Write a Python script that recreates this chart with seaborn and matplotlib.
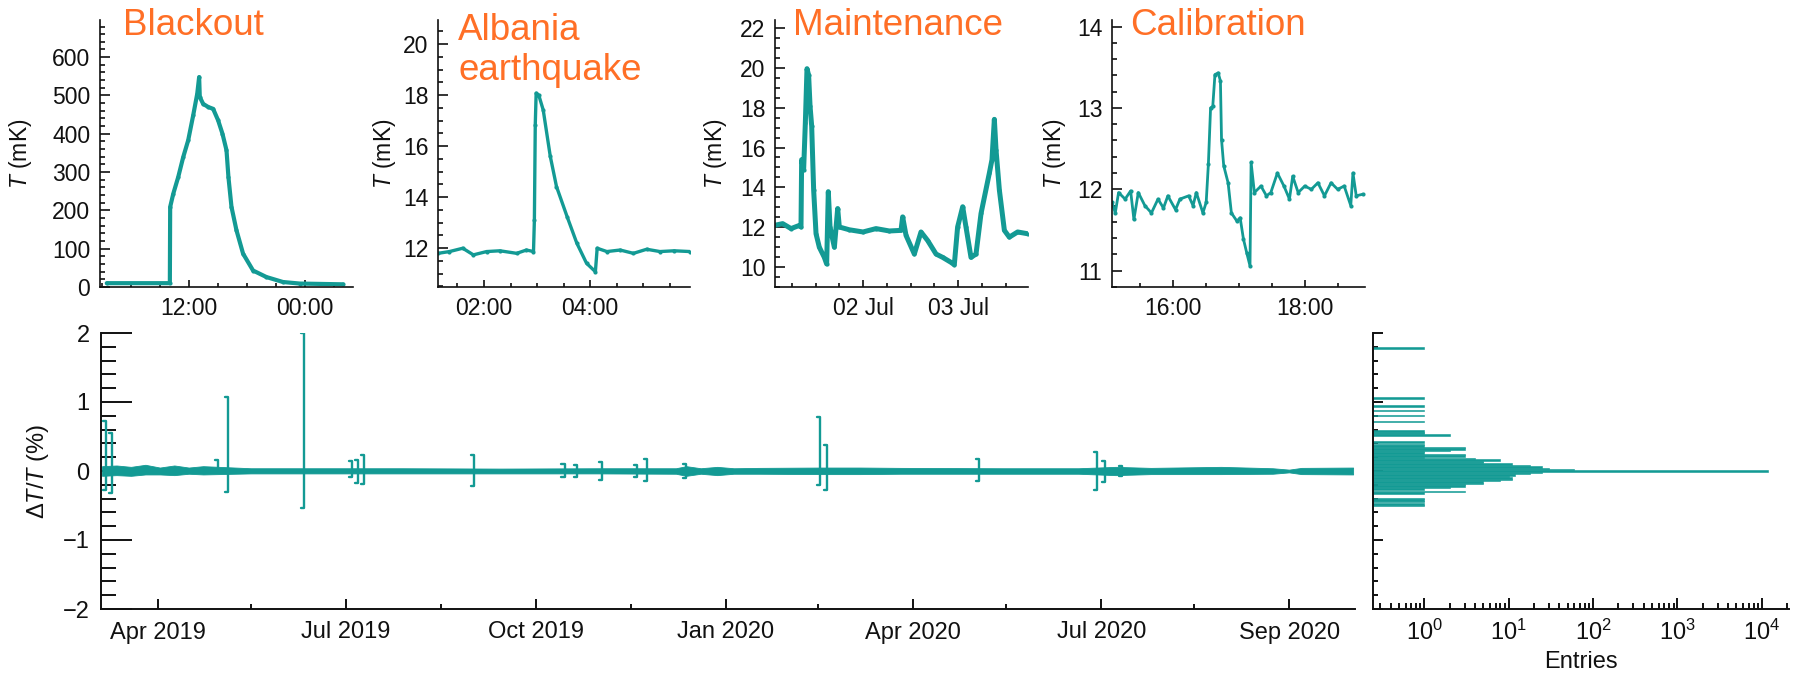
import numpy as np
import pandas as pd
import matplotlib
matplotlib.use('Agg')
import matplotlib.pyplot as plt
import matplotlib.dates as mdates
import matplotlib.ticker as mticker
import seaborn as sns

TEAL = '#139a94'
ORANGE = '#ff6f26'
INK = '#111111'

# ---------------- data ----------------
blackout_time = ['2019-06-11 03:30', '2019-06-11 10:02', '2019-06-11 10:04', '2019-06-11 10:23',
                 '2019-06-11 10:54', '2019-06-11 11:25', '2019-06-11 11:56', '2019-06-11 12:27',
                 '2019-06-11 12:52', '2019-06-11 13:04', '2019-06-11 13:08', '2019-06-11 13:29',
                 '2019-06-11 14:00', '2019-06-11 14:31', '2019-06-11 15:02', '2019-06-11 15:29',
                 '2019-06-11 15:54', '2019-06-11 16:06', '2019-06-11 16:25', '2019-06-11 16:56',
                 '2019-06-11 17:37', '2019-06-11 18:39', '2019-06-11 20:02', '2019-06-11 21:45',
                 '2019-06-11 23:29', '2019-06-12 03:58']
blackout_T = [10, 10, 209, 243, 287, 339, 383, 448, 504, 548, 496, 478, 470, 465, 435, 400,
              357, 287, 209, 148, 87, 43, 26, 13, 9, 7]

albania_time = ['2019-11-26 01:08', '2019-11-26 01:21', '2019-11-26 01:36', '2019-11-26 01:48',
                '2019-11-26 02:03', '2019-11-26 02:18', '2019-11-26 02:37', '2019-11-26 02:48',
                '2019-11-26 02:56', '2019-11-26 02:57', '2019-11-26 02:58', '2019-11-26 02:59',
                '2019-11-26 03:02', '2019-11-26 03:07', '2019-11-26 03:15', '2019-11-26 03:22',
                '2019-11-26 03:34', '2019-11-26 03:45', '2019-11-26 03:56', '2019-11-26 04:06',
                '2019-11-26 04:08', '2019-11-26 04:19', '2019-11-26 04:34', '2019-11-26 04:49',
                '2019-11-26 05:04', '2019-11-26 05:19', '2019-11-26 05:35', '2019-11-26 05:53']
albania_T = [11.80, 11.87, 12.00, 11.74, 11.87, 11.90, 11.80, 11.93, 11.87, 13.10, 16.84, 18.08,
             18.00, 17.42, 15.60, 14.42, 13.24, 12.20, 11.41, 11.08, 12.00, 11.87, 11.93, 11.80,
             11.96, 11.87, 11.90, 11.87]

maint_time = ['2020-07-01 01:36', '2020-07-01 03:42', '2020-07-01 05:49', '2020-07-01 07:55',
              '2020-07-01 08:20', '2020-07-01 08:30', '2020-07-01 09:00', '2020-07-01 09:26',
              '2020-07-01 09:51', '2020-07-01 10:16', '2020-07-01 10:37', '2020-07-01 11:02',
              '2020-07-01 11:32', '2020-07-01 12:08', '2020-07-01 12:58', '2020-07-01 14:14',
              '2020-07-01 14:49', '2020-07-01 15:14', '2020-07-01 15:40', '2020-07-01 16:46',
              '2020-07-01 17:36', '2020-07-01 18:01', '2020-07-01 20:33', '2020-07-02 00:00',
              '2020-07-02 03:17', '2020-07-02 06:39', '2020-07-02 09:36', '2020-07-02 10:01',
              '2020-07-02 10:52', '2020-07-02 12:58', '2020-07-02 14:39', '2020-07-02 16:20',
              '2020-07-02 18:27', '2020-07-02 20:08', '2020-07-02 22:14', '2020-07-02 23:04',
              '2020-07-02 23:54', '2020-07-03 01:11', '2020-07-03 02:01', '2020-07-03 03:17',
              '2020-07-03 04:33', '2020-07-03 05:49', '2020-07-03 07:55', '2020-07-03 08:35',
              '2020-07-03 09:11', '2020-07-03 09:36', '2020-07-03 10:27', '2020-07-03 11:43',
              '2020-07-03 12:58', '2020-07-03 15:04', '2020-07-03 17:36']
maint_T = [12.08, 12.17, 11.92, 12.08, 12.00, 15.39, 14.88, 17.25, 19.97, 19.63, 18.10, 17.08,
           13.86, 11.66, 10.98, 10.47, 10.14, 13.78, 12.00, 10.98, 12.93, 12.00, 11.86, 11.75,
           11.92, 11.80, 11.83, 12.51, 11.58, 10.64, 11.75, 11.32, 10.64, 10.47, 10.22, 10.10,
           12.00, 13.02, 12.00, 10.47, 10.64, 12.68, 14.71, 15.39, 17.42, 15.90, 13.86, 11.83,
           11.49, 11.75, 11.66]

calib_time = ['2020-05-03 15:04', '2020-05-03 15:07', '2020-05-03 15:10', '2020-05-03 15:16',
              '2020-05-03 15:21', '2020-05-03 15:24', '2020-05-03 15:28', '2020-05-03 15:34',
              '2020-05-03 15:40', '2020-05-03 15:46', '2020-05-03 15:51', '2020-05-03 15:55',
              '2020-05-03 16:02', '2020-05-03 16:06', '2020-05-03 16:14', '2020-05-03 16:18',
              '2020-05-03 16:21', '2020-05-03 16:27', '2020-05-03 16:30', '2020-05-03 16:32',
              '2020-05-03 16:34', '2020-05-03 16:36', '2020-05-03 16:38', '2020-05-03 16:41',
              '2020-05-03 16:43', '2020-05-03 16:44', '2020-05-03 16:46', '2020-05-03 16:50',
              '2020-05-03 16:53', '2020-05-03 16:58', '2020-05-03 17:01', '2020-05-03 17:04',
              '2020-05-03 17:07', '2020-05-03 17:10', '2020-05-03 17:11', '2020-05-03 17:14',
              '2020-05-03 17:20', '2020-05-03 17:25', '2020-05-03 17:29', '2020-05-03 17:35',
              '2020-05-03 17:41', '2020-05-03 17:46', '2020-05-03 17:49', '2020-05-03 17:54',
              '2020-05-03 18:00', '2020-05-03 18:06', '2020-05-03 18:12', '2020-05-03 18:18',
              '2020-05-03 18:24', '2020-05-03 18:30', '2020-05-03 18:36', '2020-05-03 18:42',
              '2020-05-03 18:44', '2020-05-03 18:47', '2020-05-03 18:53']
calib_T = [11.84, 11.71, 11.96, 11.88, 11.98, 11.63, 11.96, 11.80, 11.71, 11.88, 11.77, 11.92,
           11.75, 11.88, 11.92, 11.80, 11.96, 11.71, 11.84, 12.31, 13.00, 13.02, 13.41, 13.43,
           13.33, 12.61, 12.29, 12.08, 11.71, 11.61, 11.65, 11.39, 11.22, 11.06, 12.33, 11.96,
           12.04, 11.92, 11.96, 12.20, 12.04, 11.88, 12.16, 11.96, 12.04, 12.00, 12.08, 11.92,
           12.08, 12.00, 12.04, 11.80, 12.20, 11.92, 11.94]

# long-term dT/T: noise envelope and excursions
env_dates = ['2019-03-05', '2019-03-12', '2019-03-19', '2019-03-26', '2019-04-02', '2019-04-09',
             '2019-04-16', '2019-04-23', '2019-05-16', '2019-06-09', '2019-07-28', '2019-09-14',
             '2019-11-01', '2019-12-08', '2019-12-13', '2019-12-20', '2019-12-28', '2020-01-05',
             '2020-01-17', '2020-02-16', '2020-03-06', '2020-03-26', '2020-05-14', '2020-06-20',
             '2020-07-08', '2020-07-25', '2020-08-28', '2020-09-22', '2020-09-30', '2020-10-06',
             '2020-10-31']
env_hi = [0.07, 0.08, 0.06, 0.09, 0.05, 0.08, 0.05, 0.07, 0.04, 0.04, 0.04, 0.035, 0.04, 0.04,
          0.07, 0.04, 0.06, 0.04, 0.045, 0.05, 0.05, 0.045, 0.04, 0.04, 0.06, 0.045, 0.06, 0.04,
          0.02, 0.045, 0.05]
env_lo = [-0.07, -0.06, -0.07, -0.05, -0.05, -0.06, -0.04, -0.05, -0.035, -0.035, -0.035,
          -0.035, -0.035, -0.04, -0.07, -0.04, -0.06, -0.04, -0.04, -0.045, -0.045, -0.04, -0.04,
          -0.04, -0.06, -0.045, -0.045, -0.04, -0.02, -0.045, -0.05]

spike_dates = ['2019-03-07', '2019-03-10', '2019-04-30', '2019-05-05', '2019-06-11', '2019-07-04',
               '2019-07-07', '2019-07-10', '2019-09-01', '2019-10-15', '2019-10-21', '2019-11-02',
               '2019-11-19', '2019-11-24', '2019-12-13', '2020-02-16', '2020-02-19', '2020-05-03',
               '2020-06-29', '2020-07-03', '2020-07-11']
spike_hi = [0.72, 0.55, 0.16, 1.07, 2.00, 0.15, 0.16, 0.23, 0.23, 0.10, 0.08, 0.13, 0.08, 0.17,
            0.10, 0.78, 0.37, 0.17, 0.27, 0.15, 0.07]
spike_lo = [-0.28, -0.32, -0.02, -0.30, -0.53, -0.08, -0.18, -0.19, -0.22, -0.08, -0.08, -0.13,
            -0.08, -0.14, -0.10, -0.20, -0.28, -0.14, -0.27, -0.16, -0.07]

main_tick_dates = ['2019-04-01', '2019-07-01', '2019-10-01', '2020-01-01', '2020-04-01',
                   '2020-07-01', '2020-09-30']
main_tick_labels = ['Apr 2019', 'Jul 2019', 'Oct 2019', 'Jan 2020', 'Apr 2020', 'Jul 2020',
                    'Sep 2020']
main_minor_dates = ['2019-05-16', '2019-08-16', '2019-11-16', '2020-02-15', '2020-05-16',
                    '2020-08-15']

hist_centers = [1.78, 1.06, 0.94, 0.88, 0.80, 0.72, 0.58, 0.56, 0.54, 0.52, 0.42,
                0.38, 0.36, 0.34, 0.32, 0.30, 0.28, 0.26, 0.24, 0.22, 0.20, 0.18, 0.16, 0.14,
                0.12, 0.10, 0.08, 0.06, 0.04, 0.02, 0.00,
                -0.02, -0.04, -0.06, -0.08, -0.10, -0.12, -0.14, -0.16, -0.18, -0.20, -0.22,
                -0.24, -0.26, -0.30, -0.32, -0.40, -0.42, -0.44, -0.48, -0.50]
hist_counts = [1, 1, 1, 1, 1, 1, 1, 1, 1, 2, 1,
               1, 1, 3, 3, 2, 1, 1, 3, 3, 1, 4, 8, 5, 5, 11, 18, 25, 30, 60, 12000,
               25, 18, 12, 10, 11, 11, 8, 5, 5, 3, 3, 2, 1, 3, 1, 1, 1, 1, 1, 1]

titles = ['Blackout', 'Albania\nearthquake', 'Maintenance', 'Calibration']

# ---------------- style ----------------
sns.set_style('ticks')
plt.rcParams['font.family'] = ['Liberation Sans', 'DejaVu Sans']
plt.rcParams['mathtext.fontset'] = 'custom'
plt.rcParams['mathtext.rm'] = 'Liberation Sans'
plt.rcParams['mathtext.it'] = 'Liberation Sans:italic'
plt.rcParams['mathtext.bf'] = 'Liberation Sans:bold'
plt.rcParams['axes.unicode_minus'] = True

W, H = 1801, 678
fig = plt.figure(figsize=(W / 100, H / 100), dpi=100)


def px_axes(left, top, right, bottom):
    return fig.add_axes([left / W, 1 - bottom / H, (right - left) / W, (bottom - top) / H])


def style(ax, lw=1.2, labelsize=16.5):
    for s in ['top', 'right']:
        ax.spines[s].set_visible(False)
    for s in ['left', 'bottom']:
        ax.spines[s].set_linewidth(lw)
        ax.spines[s].set_color(INK)
    ax.tick_params(which='both', direction='in', width=lw, colors=INK, labelsize=labelsize,
                   labelcolor=INK)
    ax.set_facecolor('white')


# ---------------- top panels ----------------
top_boxes = [(100, 20, 353, 287), (438, 20, 690, 287), (775, 20, 1028, 287), (1112, 20, 1365, 287)]
series = [(blackout_time, blackout_T, 3.0), (albania_time, albania_T, 2.4),
          (maint_time, maint_T, 3.6), (calib_time, calib_T, 2.0)]
ylims = [(0, 697), (10.48, 20.95), (8.98, 22.42), (10.8, 14.08)]
xlims = [('2019-06-11 02:48', '2019-06-12 05:00'), ('2019-11-26 01:08', '2019-11-26 05:53'),
         ('2020-07-01 01:46', '2020-07-03 17:41'), ('2020-05-03 15:04', '2020-05-03 18:55')]
ymaj = [100, 2, 2, 1]
ymin = [20, 0.5, 0.5, 0.2]
xmaj = [mdates.HourLocator(byhour=[0, 12]), mdates.HourLocator(byhour=[2, 4]),
        mdates.DayLocator(bymonthday=[2, 3]), mdates.HourLocator(byhour=[16, 18])]
xmin = [mdates.HourLocator(byhour=range(0, 24, 3)), mdates.MinuteLocator(byminute=[0, 30]),
        mdates.HourLocator(byhour=[0, 6, 12, 18]), mdates.MinuteLocator(byminute=[0, 30])]
xfmt = ['%H:%M', '%H:%M', '%d %b', '%H:%M']
ylab_x = [-0.262, -0.160, -0.183, -0.172]
title_x = [123, 458, 793, 1130]
title_base = [35, 80, 35, 35]   # baseline (px from top) of the last title line

for i, box in enumerate(top_boxes):
    ax = px_axes(*box)
    t, v, lw = series[i]
    df = pd.DataFrame({'time': pd.to_datetime(t), 'T': v})
    sns.lineplot(data=df, x='time', y='T', ax=ax, color=TEAL, lw=lw, sort=False, estimator=None,
                 marker='o', markersize=3, markeredgewidth=0)
    ax.set_xlim(pd.Timestamp(xlims[i][0]), pd.Timestamp(xlims[i][1]))
    ax.set_ylim(*ylims[i])
    style(ax, lw=1.2)
    ax.yaxis.set_major_locator(mticker.MultipleLocator(ymaj[i]))
    ax.yaxis.set_minor_locator(mticker.MultipleLocator(ymin[i]))
    ax.xaxis.set_major_locator(xmaj[i])
    ax.xaxis.set_minor_locator(xmin[i])
    ax.xaxis.set_major_formatter(mdates.DateFormatter(xfmt[i]))
    ax.tick_params(axis='y', which='major', length=7, pad=7)
    ax.tick_params(axis='y', which='minor', length=3.5)
    ax.tick_params(axis='x', which='major', length=5, pad=7)
    ax.tick_params(axis='x', which='minor', length=3)
    ax.set_xlabel('')
    ax.set_ylabel(r'$T$ (mK)', fontsize=16.5, color=INK)
    ax.yaxis.set_label_coords(ylab_x[i], 0.5)
    fig.text(title_x[i] / W, 1 - title_base[i] / H, titles[i], color=ORANGE, fontsize=26.5,
             ha='left', va='baseline', linespacing=1.18)

# ---------------- main long-term panel ----------------
axm = px_axes(100.7, 333, 1355, 609)
axm.fill_between(pd.to_datetime(env_dates), env_lo, env_hi, color=TEAL, lw=0.6, edgecolor=TEAL)
rows = []
hook = pd.Timedelta(days=1.5)
for k, (d, hi, lo) in enumerate(zip(pd.to_datetime(spike_dates), spike_hi, spike_lo)):
    rows += [(k, d - hook, hi), (k, d, hi), (k, d, lo), (k, d - hook, lo)]
spk = pd.DataFrame(rows, columns=['id', 'date', 'value'])
sns.lineplot(data=spk, x='date', y='value', units='id', estimator=None, sort=False, ax=axm,
             color=TEAL, lw=1.7)
axm.set_xlim(pd.Timestamp('2019-03-04 08:00'), pd.Timestamp('2020-10-31 22:00'))
axm.set_ylim(-2, 2)
style(axm, lw=1.4, labelsize=17)
axm.xaxis.set_major_locator(mticker.FixedLocator(mdates.date2num(pd.to_datetime(main_tick_dates))))
axm.xaxis.set_major_formatter(mticker.FixedFormatter(main_tick_labels))
axm.xaxis.set_minor_locator(mticker.FixedLocator(mdates.date2num(pd.to_datetime(main_minor_dates))))
axm.yaxis.set_major_locator(mticker.MultipleLocator(1))
axm.yaxis.set_minor_locator(mticker.MultipleLocator(0.2))
axm.tick_params(axis='y', which='major', length=22, pad=8)
axm.tick_params(axis='y', which='minor', length=11)
axm.tick_params(axis='x', which='major', length=7, pad=9)
axm.tick_params(axis='x', which='minor', length=3.5)
axm.set_xlabel('')
axm.set_ylabel(r'$\Delta T/T$ (%)', fontsize=17, color=INK)
axm.yaxis.set_label_coords(-0.040, 0.5)

# ---------------- histogram ----------------
axh = px_axes(1372.7, 333, 1789, 609)
hist_df = pd.DataFrame({'dTT': hist_centers, 'entries': hist_counts})
sns.histplot(data=hist_df, y='dTT', weights='entries', binwidth=0.02, binrange=(-2.01, 2.01),
             ax=axh, color=TEAL, alpha=1, edgecolor=TEAL, linewidth=0.4)
axh.set_xscale('log')
axh.set_xlim(0.245, 2.1e4)
axh.set_ylim(-2, 2)
style(axh, lw=1.4, labelsize=17)
axh.xaxis.set_major_locator(mticker.LogLocator(base=10, numticks=12))
axh.xaxis.set_minor_locator(mticker.LogLocator(base=10, subs=np.arange(2, 10), numticks=12))
axh.xaxis.set_minor_formatter(mticker.NullFormatter())
axh.yaxis.set_major_locator(mticker.MultipleLocator(1))
axh.yaxis.set_minor_locator(mticker.MultipleLocator(0.2))
axh.yaxis.set_major_formatter(mticker.NullFormatter())
axh.tick_params(axis='y', which='major', length=7)
axh.tick_params(axis='y', which='minor', length=3.5)
axh.tick_params(axis='x', which='major', length=8, pad=8)
axh.tick_params(axis='x', which='minor', length=4)
axh.set_ylabel('')
axh.set_xlabel('Entries', fontsize=17, color=INK, labelpad=4)

fig.savefig('out.png', dpi=100, facecolor='white')
